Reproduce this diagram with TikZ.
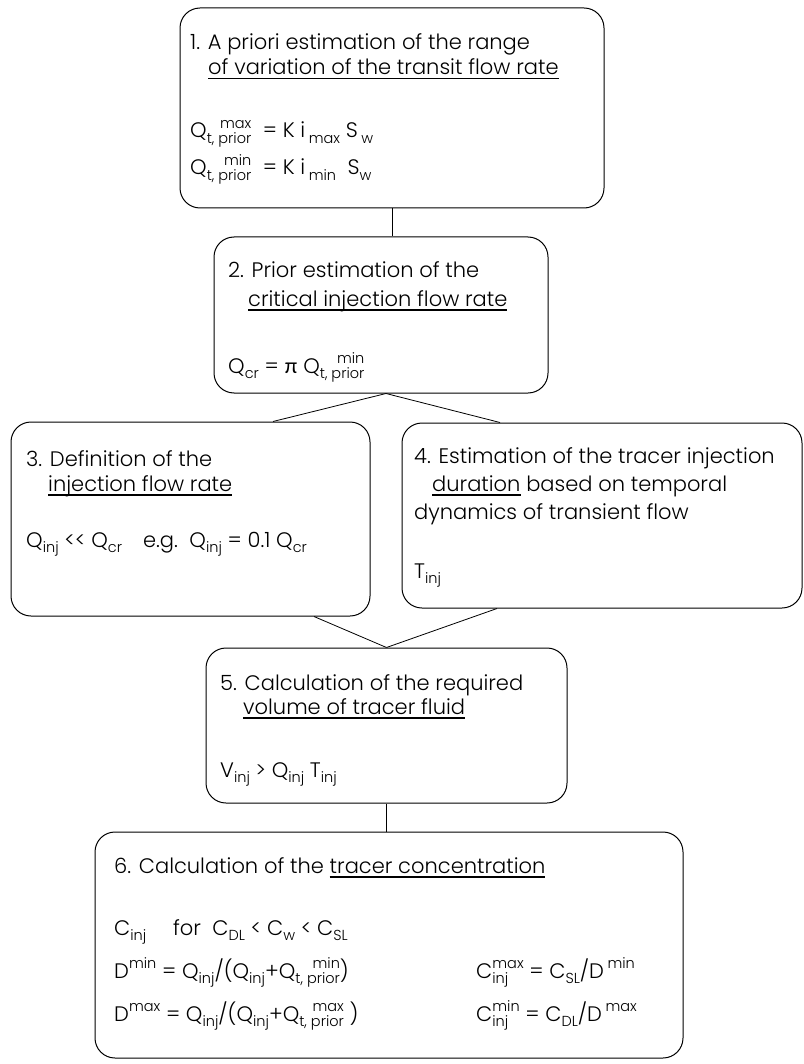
\documentclass[tikz,border=0pt]{standalone}
\usepackage{fontspec}
\setmainfont{Poppins}[UprightFont={* Light}]
\newfontfamily\symfont{Lato}
\usetikzlibrary{calc,positioning}
\tikzset{
  box/.style={draw,rounded corners=20pt,line width=1pt,inner sep=0pt},
  txt/.style={anchor=base west,inner sep=0pt,font=\fontsize{21}{26}\selectfont},
  link/.style={line width=0.8pt}
}
% small raised and lowered text
\newcommand{\sbs}[1]{\raisebox{-5.5pt}{\fontsize{14.5}{14.5}\selectfont #1}}
\newcommand{\sps}[1]{\raisebox{9.5pt}{\fontsize{14.5}{14.5}\selectfont #1}}
% stacked sub- and superscript
\newsavebox\subbox
\newsavebox\supbox
\newlength\sswd
\newcommand{\subsup}[3][r]{%
  \sbox\subbox{\sbs{#2}}\sbox\supbox{\sps{#3}}%
  \ifdim\wd\subbox>\wd\supbox\setlength\sswd{\wd\subbox}\else\setlength\sswd{\wd\supbox}\fi
  \rlap{\makebox[\sswd][#1]{\usebox\supbox}}\makebox[\sswd][#1]{\usebox\subbox}}
% thick underline
\newsavebox\ulbox
\newcommand{\ulbar}[1]{\sbox\ulbox{#1}\rlap{\rule[-4.5pt]{\wd\ulbox}{1.5pt}}\usebox\ulbox}

\begin{document}
\begin{tikzpicture}[x=1pt,y=-1pt]
  \useasboundingbox (0,0) rectangle (803,1064);

  % 1. range of the transit flow rate
  \node[box,minimum width=424pt,minimum height=200pt] (s1) at (392,108) {};
  \node[txt] (s1a) at (190,50) {1. A priori estimation of the range};
  \node[txt] (s1b) at (208,75) {\ulbar{of variation of the transit flow rate}};
  \node[txt] (s1c) at (190,138) {Q\subsup{t, prior}{max}\ \ = K i\,\sbs{max} S\,\sbs{w}};
  \node[txt] (s1d) at (190,175) {Q\subsup{t, prior}{min}\ \ = K i\,\sbs{min}\ \ S\sbs{w}};

  % 2. critical injection flow rate
  \node[box,minimum width=334pt,minimum height=156pt] (s2) at (381,315) {};
  \node[txt] (s2a) at (228,278) {2. Prior estimation of the};
  \node[txt] (s2b) at (248,306) {\ulbar{critical injection flow rate}};
  \node[txt] (s2c) at (228,373) {Q\sbs{cr} = {\symfont π} Q\subsup{t, prior}{min}};

  % 3. injection flow rate
  \node[box,minimum width=359pt,minimum height=194pt] (s3) at (190.5,519) {};
  \node[txt] (s3a) at (26,466) {3. Definition of the};
  \node[txt] (s3b) at (48,491) {\ulbar{injection flow rate}};
  \node[txt] (s3c) at (26,547) {Q\sbs{inj} <{}< Q\sbs{cr}\quad e.g.\ \ Q\sbs{inj} = 0.1 Q\sbs{cr}};

  % 4. injection duration
  \node[box,minimum width=400pt,minimum height=185pt] (s4) at (602,515.5) {};
  \node[txt] (s4a) at (414,463) {4. Estimation of the tracer injection};
  \node[txt] (s4b) at (432,491) {\ulbar{duration} based on temporal};
  \node[txt] (s4c) at (414,519) {dynamics of transient flow};
  \node[txt] (s4d) at (414,578) {T\sbs{inj}};

  % 5. volume of tracer fluid
  \node[box,minimum width=361pt,minimum height=155pt] (s5) at (386.5,725.5) {};
  \node[txt] (s5a) at (220,690) {5. Calculation of the required};
  \node[txt] (s5b) at (243,714) {\ulbar{volume of tracer fluid}};
  \node[txt] (s5c) at (220,777) {V\sbs{inj} > Q\sbs{inj} T\sbs{inj}};

  % 6. tracer concentration
  \node[box,minimum width=588pt,minimum height=226pt] (s6) at (389,945) {};
  \node[txt] (s6a) at (114,873) {6. Calculation of the \ulbar{tracer concentration}};
  \node[txt] (s6b) at (114,935) {C\sbs{inj}\quad\ for\ \ C\sbs{DL} < C\sbs{w} < C\sbs{SL}};
  \node[txt] (s6c) at (114,978) {D\sps{min} = Q\sbs{inj}/(Q\sbs{inj}+Q\subsup{t, prior}{min})};
  \node[txt] (s6d) at (114,1021) {D\sps{max} = Q\sbs{inj}/(Q\sbs{inj}+Q\subsup{t, prior}{max} )};
  \node[txt] (s6e) at (476,978) {C\subsup[l]{inj}{max} = C\sbs{SL}/D\,\sps{min}};
  \node[txt] (s6f) at (476,1021) {C\subsup[l]{inj}{min} = C\sbs{DL}/D\,\sps{max}};

  % connectors
  \draw[link] (s1.south) -- (s1.south |- s2.north);
  \draw[link] ([xshift=5pt]s2.south) -- ([xshift=82.5pt]s3.north);
  \draw[link] ([xshift=5pt]s2.south) -- ([xshift=-102pt]s4.north);
  \draw[link] ([xshift=123.5pt]s3.south) -- (s5.north);
  \draw[link] ([xshift=-105pt]s4.south) -- (s5.north);
  \draw[link] (s5.south) -- (s5.south |- s6.north);
\end{tikzpicture}
\end{document}
